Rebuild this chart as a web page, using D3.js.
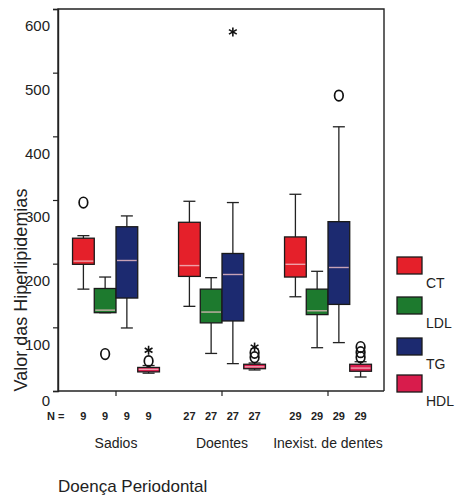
<!DOCTYPE html>
<html>
<head>
<meta charset="utf-8">
<script src="https://cdn.jsdelivr.net/npm/d3@7"></script>
<style>
  body { margin: 0; background: #fff; }
  svg { display: block; font-family: "Liberation Sans", Arial, sans-serif; }
</style>
</head>
<body>
<svg id="chart" width="455" height="497"></svg>
<script>
var groups = ["Sadios", "Doentes", "Inexist. de dentes"];
var series = ["CT", "LDL", "TG", "HDL"];
var counts = [9, 27, 29];
var yTicks = [0, 100, 200, 300, 400, 500, 600];

// [lower whisker, Q1, median, Q3, upper whisker] for each group
var ctStats  = [[160, 199, 204, 240, 244], [133, 180, 197, 265, 298], [148, 179, 199, 242, 309]];
var ldlStats = [[123, 123, 127, 161, 179], [59, 107, 124, 160, 178], [68, 120, 126, 160, 188]];
var tgStats  = [[99, 146, 205, 258, 275], [43, 110, 183, 216, 296], [76, 136, 194, 266, 415]];
var hdlStats = [[28, 30, 34, 37, 40], [33, 35, 38, 42, 44], [22, 31, 36, 42, 46]];

// outliers (o) and extremes (*)
var ctOut  = [[296], [], []];
var ldlOut = [[58], [], []];
var tgOut  = [[], [], [464]];
var hdlOut = [[47], [60, 53], [69, 61, 53]];
var tgExt  = [[], [564], []];
var hdlExt = [[64], [69], []];

var colors = ["#e5202a", "#1d7a2e", "#1c2a70", "#d81c4c"];

var statsBySeries = [ctStats, ldlStats, tgStats, hdlStats];
var outBySeries = [ctOut, ldlOut, tgOut, hdlOut];
var extBySeries = [[[], [], []], [[], [], []], tgExt, hdlExt];

const svg = d3.select("#chart");
const plotLeft = 58, plotRight = 384, plotTop = 9, plotBottom = 391;

const y = d3.scaleLinear().domain([0, 600]).range([plotBottom, plotTop]);
const x0 = d3.scaleBand().domain(groups).range([63, 381]).paddingInner(0.18).paddingOuter(0.09);
const x1 = d3.scaleBand().domain(series).range([0, x0.bandwidth()]);
const color = d3.scaleOrdinal().domain(series).range(colors);

// frame
svg.append("path")
    .attr("d", `M${plotLeft},${plotBottom}V${plotTop}H${plotRight}V${plotBottom}`)
    .attr("fill", "none").attr("stroke", "#222").attr("stroke-width", 1.4);

// y axis (labels sit a bit below their ticks, as in the scan)
let gy = svg.append("g").attr("transform", `translate(${plotLeft},0)`)
    .call(d3.axisLeft(y).tickValues(yTicks).tickSize(5).tickPadding(3));
gy.select(".domain").attr("stroke", "#222").attr("stroke-width", 1.4);
gy.selectAll(".tick line").attr("stroke", "#222").attr("stroke-width", 1.2);
gy.selectAll(".tick text")
    .attr("font-size", 15).attr("fill", "#222")
    .attr("font-family", "'Liberation Sans', Arial, sans-serif")
    .attr("y", d => d === 0 ? 10 : 17);

// x axis
let gx = svg.append("g").attr("transform", `translate(0,${plotBottom})`)
    .call(d3.axisBottom(x0).tickSize(5).tickFormat(""));
gx.select(".domain").attr("d", `M${plotLeft},0H${plotRight}`).attr("stroke", "#222").attr("stroke-width", 1.4);
gx.selectAll(".tick line").attr("stroke", "#222").attr("stroke-width", 1.2);

// boxes
series.forEach(function(s, si) {
    groups.forEach(function(g, gi) {
        var st = statsBySeries[si][gi];
        var bx = x0(g) + x1(s);
        var bw = x1.bandwidth();
        var cx = bx + bw / 2;
        var cap = 6;
        var grp = svg.append("g").attr("class", "box");
        grp.append("line").attr("x1", cx).attr("x2", cx).attr("y1", y(st[4])).attr("y2", y(st[3]))
            .attr("stroke", "#222").attr("stroke-width", 1.3);
        grp.append("line").attr("x1", cx).attr("x2", cx).attr("y1", y(st[1])).attr("y2", y(st[0]))
            .attr("stroke", "#222").attr("stroke-width", 1.3);
        grp.append("line").attr("x1", cx - cap).attr("x2", cx + cap).attr("y1", y(st[4])).attr("y2", y(st[4]))
            .attr("stroke", "#222").attr("stroke-width", 1.3);
        grp.append("line").attr("x1", cx - cap).attr("x2", cx + cap).attr("y1", y(st[0])).attr("y2", y(st[0]))
            .attr("stroke", "#222").attr("stroke-width", 1.3);
        grp.append("rect").attr("x", bx).attr("y", y(st[3])).attr("width", bw).attr("height", y(st[1]) - y(st[3]))
            .attr("fill", color(s)).attr("stroke", "#1a1a1a").attr("stroke-width", 1.3);
        grp.append("line").attr("x1", bx + 1).attr("x2", bx + bw - 1).attr("y1", y(st[2])).attr("y2", y(st[2]))
            .attr("stroke", "#f2c0c8").attr("stroke-width", 1.4).attr("opacity", 0.8);

        outBySeries[si][gi].forEach(function(v) {
            grp.append("ellipse").attr("cx", cx).attr("cy", y(v)).attr("rx", 4.3).attr("ry", 5.3)
                .attr("fill", "none").attr("stroke", "#111").attr("stroke-width", 1.7);
        });
        extBySeries[si][gi].forEach(function(v) {
            var r = 4.5, yy = y(v);
            [0, 60, 120].forEach(function(a) {
                var rad = a * Math.PI / 180;
                grp.append("line")
                    .attr("x1", cx - r * Math.sin(rad)).attr("x2", cx + r * Math.sin(rad))
                    .attr("y1", yy - r * Math.cos(rad)).attr("y2", yy + r * Math.cos(rad))
                    .attr("stroke", "#111").attr("stroke-width", 1.6);
            });
        });
    });
});

// N row
svg.append("text").attr("x", 47).attr("y", 420).attr("font-size", 11).attr("font-weight", "bold")
    .attr("fill", "#222").text("N =");
groups.forEach(function(g, gi) {
    series.forEach(function(s) {
        svg.append("text").attr("x", x0(g) + x1(s) + x1.bandwidth() / 2).attr("y", 420)
            .attr("text-anchor", "middle").attr("font-size", 11).attr("font-weight", "bold")
            .attr("fill", "#222").text(counts[gi]);
    });
    svg.append("text").attr("x", x0(g) + x0.bandwidth() / 2).attr("y", 448)
        .attr("text-anchor", "middle").attr("font-size", 14).attr("fill", "#222").text(g);
});

// axis titles
svg.append("text").attr("transform", "translate(27,290) rotate(-90)")
    .attr("text-anchor", "middle").attr("font-size", 18).attr("fill", "#222")
    .text("Valor das Hiperlipidemias");
svg.append("text").attr("x", 58).attr("y", 492).attr("font-size", 17).attr("fill", "#222")
    .text("Doença Periodontal");

// legend
var legendTop = [257, 297, 338, 375];
series.forEach(function(s, i) {
    svg.append("rect").attr("x", 397).attr("y", legendTop[i]).attr("width", 25).attr("height", 17)
        .attr("fill", color(s)).attr("stroke", "#1a1a1a").attr("stroke-width", 1.3);
    svg.append("text").attr("x", 426).attr("y", legendTop[i] + 31).attr("font-size", 14)
        .attr("fill", "#222").text(s);
});
</script>
</body>
</html>
